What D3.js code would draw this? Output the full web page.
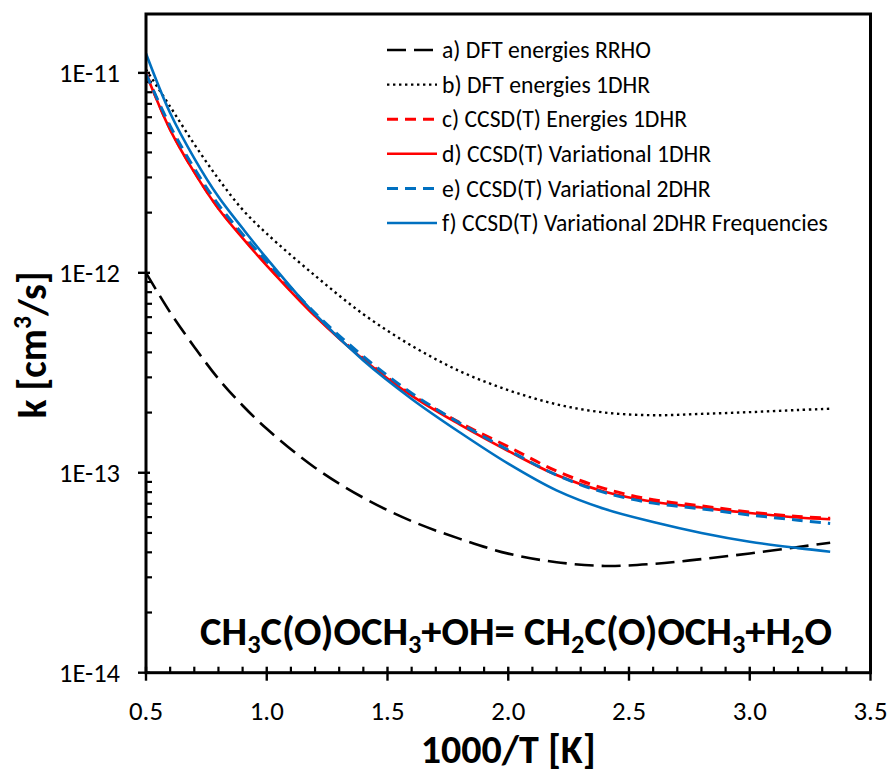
<!DOCTYPE html>
<html><head><meta charset="utf-8">
<script src="https://cdn.jsdelivr.net/npm/d3@7"></script>
<style>body{margin:0;background:#fff}svg{display:block}text{font-family:Carlito,Calibri,Lato,"Open Sans",sans-serif;fill:#000}</style>
</head><body><svg id="c" width="888" height="773"></svg>
<script>
const xVals = [0.5,0.6,0.7,0.8,0.9,1.0,1.2,1.4,1.6,1.8,2.0,2.2,2.4,2.6,2.8,3.0,3.2,3.333];
const seriesA = [1.00e-12,6.34e-13,4.26e-13,2.95e-13,2.17e-13,1.66e-13,1.06e-13,7.50e-14,5.73e-14,4.67e-14,3.94e-14,3.57e-14,3.42e-14,3.50e-14,3.70e-14,3.95e-14,4.25e-14,4.47e-14];
const seriesB = [1.04e-11,6.78e-12,4.40e-12,2.95e-12,2.07e-12,1.57e-12,9.68e-13,6.21e-13,4.32e-13,3.22e-13,2.59e-13,2.20e-13,2.00e-13,1.94e-13,1.97e-13,2.01e-13,2.06e-13,2.09e-13];
const seriesC = [1.00e-11,5.25e-12,3.21e-12,2.11e-12,1.51e-12,1.10e-12,6.13e-13,3.73e-13,2.46e-13,1.78e-13,1.35e-13,1.02e-13,8.33e-14,7.33e-14,6.83e-14,6.36e-14,6.04e-14,5.92e-14];
const seriesD = [9.93e-12,5.19e-12,3.18e-12,2.09e-12,1.49e-12,1.087e-12,6.07e-13,3.69e-13,2.43e-13,1.74e-13,1.285e-13,9.74e-14,8.04e-14,7.16e-14,6.70e-14,6.29e-14,5.97e-14,5.85e-14];
const seriesE = [9.90e-12,5.43e-12,3.33e-12,2.19e-12,1.56e-12,1.14e-12,6.29e-13,3.82e-13,2.50e-13,1.77e-13,1.30e-13,9.74e-14,7.95e-14,7.05e-14,6.60e-14,6.15e-14,5.79e-14,5.58e-14];
const seriesF = [1.25e-11,6.30e-12,3.74e-12,2.40e-12,1.67e-12,1.18e-12,6.21e-13,3.64e-13,2.34e-13,1.59e-13,1.11e-13,8.16e-14,6.58e-14,5.67e-14,5.00e-14,4.52e-14,4.20e-14,4.03e-14];
const legendLabels = ["a) DFT energies RRHO","b) DFT energies 1DHR","c) CCSD(T) Energies 1DHR","d) CCSD(T) Variational 1DHR","e) CCSD(T) Variational 2DHR","f) CCSD(T) Variational 2DHR Frequencies"];
const xTicks = [0.5,1.0,1.5,2.0,2.5,3.0,3.5];
const yTicks = [1e-14,1e-13,1e-12,1e-11];
const yTickLabels = ["1E-14","1E-13","1E-12","1E-11"];

const styles = [
  {color:"#000",dash:"19,8",w:2.6},
  {color:"#000",dash:"2.4,3.6",w:2.4},
  {color:"#FF0000",dash:"11,7",w:3},
  {color:"#FF0000",dash:null,w:2.6},
  {color:"#0070C0",dash:"11,7",w:3},
  {color:"#0070C0",dash:null,w:2.6}
];
const allSeries = [seriesA,seriesB,seriesC,seriesD,seriesE,seriesF];

const svg = d3.select("#c");
const L=146,R=870.5,T=14,B=672.7;
const x = d3.scaleLinear().domain([0.5,3.5]).range([L,R]);
const y = d3.scaleLog().domain([1e-14,1.97e-11]).range([B,T]);

function fit(sel,w){const n=sel.node();const cur=n.getComputedTextLength();const fs=parseFloat(sel.attr("font-size"));const nf=fs*w/cur;sel.attr("font-size",nf);return nf;}

// minor ticks
const minorY=[];for(let e=-14;e<-11;e++){for(let m=2;m<=9;m++)minorY.push(m*Math.pow(10,e));}
const gAx = svg.append("g");
gAx.selectAll(".my").data(minorY).join("line").attr("x1",L).attr("x2",L+6).attr("y1",d=>y(d)).attr("y2",d=>y(d)).attr("stroke","#000").attr("stroke-width",2.2);
gAx.selectAll(".My").data(yTicks).join("line").attr("x1",L-8).attr("x2",L+4).attr("y1",d=>y(d)).attr("y2",d=>y(d)).attr("stroke","#000").attr("stroke-width",2.4);
const minorX=d3.range(0.6,3.5,0.1).filter(v=>Math.abs(v*2-Math.round(v*2))>0.01);
gAx.selectAll(".mx").data(minorX).join("line").attr("x1",d=>x(d)).attr("x2",d=>x(d)).attr("y1",B).attr("y2",B-6).attr("stroke","#000").attr("stroke-width",2.2);
gAx.selectAll(".Mx").data(xTicks).join("line").attr("x1",d=>x(d)).attr("x2",d=>x(d)).attr("y1",B-6).attr("y2",B+8).attr("stroke","#000").attr("stroke-width",2.4);

// lines
const line = d3.line().x((d,i)=>x(xVals[i])).y(d=>y(d)).curve(d3.curveCatmullRom.alpha(0.5));
svg.append("clipPath").attr("id","pc").append("rect").attr("x",L).attr("y",T).attr("width",R-L).attr("height",B-T);
const gL = svg.append("g").attr("clip-path","url(#pc)");
allSeries.forEach((s,i)=>{
  gL.append("path").attr("d",line(s)).attr("fill","none").attr("stroke",styles[i].color).attr("stroke-width",styles[i].w).attr("stroke-dasharray",styles[i].dash).attr("stroke-linejoin","round");
});

// frame
svg.append("rect").attr("x",L).attr("y",T).attr("width",R-L).attr("height",B-T).attr("fill","none").attr("stroke","#000").attr("stroke-width",3);

// tick labels
const yl = svg.append("g").selectAll("text").data(yTicks).join("text").attr("x",120).attr("y",d=>y(d)).attr("dy","0.35em").attr("text-anchor","end").attr("font-size",20).text((d,i)=>yTickLabels[i]);
const yfs = fit(d3.select(yl.nodes()[2]),61); yl.attr("font-size",yfs);
const xl = svg.append("g").selectAll("text").data(xTicks).join("text").attr("x",d=>x(d)).attr("y",720).attr("text-anchor","middle").attr("font-size",20).text(d=>d.toFixed(1));
const xfs = fit(d3.select(xl.nodes()[0]),34); xl.attr("font-size",xfs);

// axis titles
const xt = svg.append("text").attr("x",(L+R)/2).attr("y",763).attr("text-anchor","middle").attr("font-weight","bold").attr("font-size",28).text("1000/T [K]");
fit(xt,175);
const yt = svg.append("text").attr("transform","translate(46,345) rotate(-90)").attr("text-anchor","middle").attr("font-weight","bold").attr("font-size",28);
yt.append("tspan").text("k [cm");
yt.append("tspan").attr("baseline-shift","super").attr("font-size","65%").text("3");
yt.append("tspan").text("/s]");
fit(yt,147);

// reaction label
const parts=[["CH",0],["3",1],["C(O)OCH",0],["3",1],["+OH= CH",0],["2",1],["C(O)OCH",0],["3",1],["+H",0],["2",1],["O",0]];
const rt = svg.append("text").attr("x",516).attr("y",645).attr("text-anchor","middle").attr("font-weight","bold").attr("font-size",28);
parts.forEach((p,i)=>{const t=rt.append("tspan").text(p[0]);
  if(p[1]) t.attr("font-size","65%").attr("dy","0.32em");
  else if(i>0) t.attr("dy","-0.208em");});
fit(rt,632);

// legend
const lg = svg.append("g");
const rows = legendLabels.map((s,i)=>({s,i,yy:50+i*34.6}));
lg.selectAll("line").data(rows).join("line").attr("x1",387).attr("x2",437).attr("y1",d=>d.yy).attr("y2",d=>d.yy)
  .attr("stroke",d=>styles[d.i].color).attr("stroke-width",d=>styles[d.i].w).attr("stroke-dasharray",d=>styles[d.i].dash);
const lt = lg.selectAll("text").data(rows).join("text").attr("x",442).attr("y",d=>d.yy).attr("dy","0.35em").attr("font-size",20).text(d=>d.s);
const lfs = fit(d3.select(lt.nodes()[5]),386); lt.attr("font-size",lfs);
</script></body></html>
